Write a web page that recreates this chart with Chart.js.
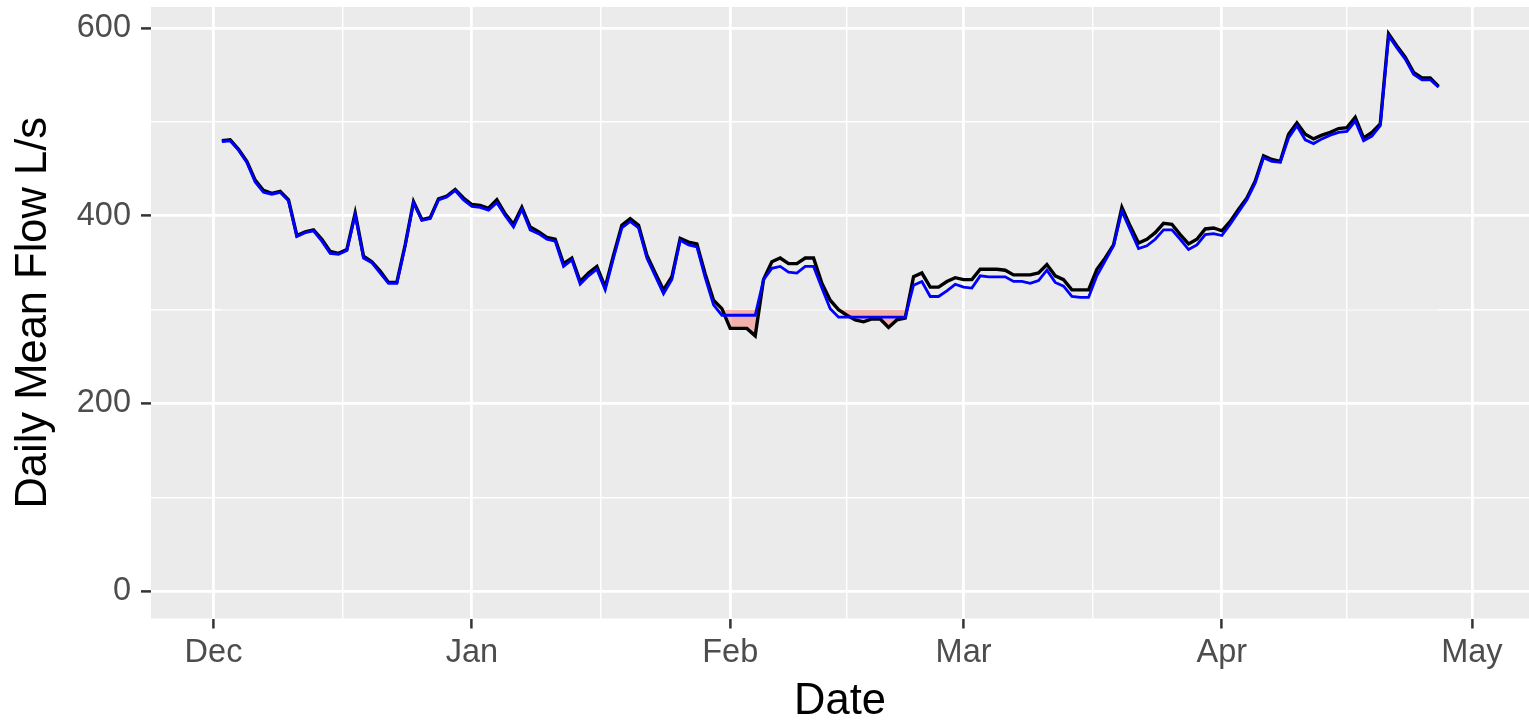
<!DOCTYPE html>
<html>
<head>
<meta charset="utf-8">
<script src="https://cdn.jsdelivr.net/npm/chart.js@4/dist/chart.umd.min.js"></script>
<style>
  html, body { margin: 0; padding: 0; background: #ffffff; }
  #wrap { width: 1529px; height: 724px; }
</style>
</head>
<body>
<div id="wrap"><canvas id="flowChart" width="1529" height="724"></canvas></div>
<script>
// x is counted in days from 1 Dec; first reading is 2 Dec
const firstDay = 1;

// month ticks (days from 1 Dec) and their labels
const monthTicks = [0, 31, 62, 90, 121, 151];
const monthLabels = ['Dec', 'Jan', 'Feb', 'Mar', 'Apr', 'May'];
const monthMinorTicks = [15.5, 46.5, 76, 105.5, 136];

const flowMajorTicks = [0, 200, 400, 600];
const flowMinorTicks = [100, 300, 500];

// threshold below which the observed flow is shaded
const threshold = 300;

// blue line, one value per day from 2 Dec
const blueFlow = [
  479, 480, 470, 457, 436, 425, 423, 425, 416, 378,
  382, 384, 373, 360, 359, 363, 401, 355, 350, 339,
  328, 328, 368, 414, 395, 397, 417, 420, 427, 417,
  410, 409, 406, 414, 400, 388, 407, 385, 381, 375,
  373, 346, 353, 327, 336, 343, 321, 355, 387, 394,
  387, 355, 336, 317, 332, 374, 369, 367, 334, 305,
  294, 294, 294, 294, 294, 332, 344, 346, 340, 339,
  346, 346, 323, 301, 292, 292, 292, 292, 292, 292,
  292, 292, 292, 326, 330, 314, 314, 320, 327, 324,
  323, 336, 335, 335, 335, 330, 330, 328, 331, 342,
  329, 325, 314, 313, 313, 336, 352, 368, 405, 385,
  365, 368, 375, 385, 385, 375, 364, 369, 380, 381,
  379, 391, 404, 417, 435, 462, 458, 457, 483, 496,
  481, 477, 482, 486, 489, 490, 501, 480, 485, 496,
  592, 579, 567, 551, 545, 545, 537
];

// black line, same days
const blackFlow = [
  480, 481, 471, 458, 438, 427, 424, 426, 417, 379,
  383, 385, 375, 362, 360, 364, 403, 357, 351, 341,
  329, 329, 369, 415, 396, 398, 418, 421, 428, 419,
  412, 411, 408, 417, 402, 391, 409, 388, 383, 377,
  375, 349, 355, 330, 339, 346, 324, 358, 390, 397,
  390, 358, 339, 321, 335, 376, 372, 370, 338, 310,
  301, 280, 280, 280, 272, 332, 351, 355, 349, 349,
  355, 355, 328, 310, 300, 294, 289, 287, 290, 290,
  281, 289, 291, 335, 339, 324, 324, 330, 334, 332,
  332, 343, 343, 343, 342, 337, 337, 337, 339, 348,
  336, 332, 321, 321, 321, 343, 355, 369, 409, 389,
  371, 375, 382, 392, 391, 380, 370, 375, 386, 387,
  384, 394, 407, 419, 437, 464, 460, 458, 487, 499,
  487, 482, 486, 489, 493, 494, 505, 483, 489, 498,
  594, 581, 569, 553, 547, 547, 538
];

const toPoints = arr => arr.map((v, i) => ({ x: firstDay + i, y: v }));

const panelBg = {
  id: 'panelBg',
  beforeDraw(chart) {
    const a = chart.chartArea;
    const ctx = chart.ctx;
    ctx.save();
    ctx.fillStyle = '#EBEBEB';
    ctx.fillRect(a.left, a.top, a.right - a.left, a.bottom - a.top);
    ctx.restore();
  }
};

const tickFont = { family: 'Liberation Sans', size: 32.5, lineHeight: 1.2 };
const titleFont = { family: 'Liberation Sans', size: 43.5, lineHeight: 1 };

new Chart(document.getElementById('flowChart'), {
  type: 'line',
  data: {
    datasets: [
      {
        label: 'Adjusted',
        data: toPoints(blueFlow),
        borderColor: '#0000FF',
        borderWidth: 2.8,
        pointRadius: 0,
        tension: 0,
        fill: false
      },
      {
        label: 'Observed',
        data: toPoints(blackFlow),
        borderColor: '#000000',
        borderWidth: 3.4,
        pointRadius: 0,
        tension: 0,
        fill: {
          target: { value: threshold },
          above: 'rgba(0,0,0,0)',
          below: 'rgba(248,118,109,0.5)'
        }
      }
    ]
  },
  options: {
    responsive: false,
    animation: false,
    devicePixelRatio: 1,
    layout: { padding: { top: 7, left: 0, right: 0, bottom: 0 } },
    plugins: {
      legend: { display: false },
      tooltip: { enabled: false }
    },
    scales: {
      x: {
        type: 'linear',
        min: -7.5,
        max: 157.85,
        afterBuildTicks: scale => {
          scale.ticks = monthTicks.concat(monthMinorTicks).map(v => ({ value: v }));
        },
        afterFit: scale => {
          scale.height = 105.5;
          scale.paddingLeft = 0;
          scale.paddingRight = 0;
        },
        border: { display: false },
        grid: {
          color: '#FFFFFF',
          lineWidth: c => monthTicks.includes(c.tick.value) ? 2.8 : 1.4,
          tickColor: c => monthTicks.includes(c.tick.value) ? '#333333' : 'rgba(0,0,0,0)',
          tickWidth: 2.5,
          tickLength: 10
        },
        ticks: {
          autoSkip: false,
          maxRotation: 0,
          padding: 5,
          color: '#4D4D4D',
          font: tickFont,
          callback: v => {
            const i = monthTicks.indexOf(v);
            return i >= 0 ? monthLabels[i] : '';
          }
        },
        title: {
          display: true,
          text: 'Date',
          color: '#000000',
          font: titleFont,
          padding: { top: 0, bottom: 0 }
        }
      },
      y: {
        type: 'linear',
        min: -29.3,
        max: 622.6,
        afterBuildTicks: scale => {
          scale.ticks = flowMajorTicks.concat(flowMinorTicks).sort((a, b) => a - b).map(v => ({ value: v }));
        },
        afterFit: scale => {
          scale.width = 151;
          scale.paddingTop = 0;
          scale.paddingBottom = 0;
        },
        border: { display: false },
        grid: {
          color: '#FFFFFF',
          lineWidth: c => flowMajorTicks.includes(c.tick.value) ? 2.8 : 1.4,
          tickColor: c => flowMajorTicks.includes(c.tick.value) ? '#333333' : 'rgba(0,0,0,0)',
          tickWidth: 2.5,
          tickLength: 10
        },
        ticks: {
          autoSkip: false,
          padding: 10,
          color: '#4D4D4D',
          font: tickFont,
          callback: v => flowMajorTicks.includes(v) ? String(v) : ''
        },
        title: {
          display: true,
          text: 'Daily Mean Flow L/s',
          color: '#000000',
          font: titleFont,
          padding: { top: 12, bottom: 0 }
        }
      }
    }
  },
  plugins: [panelBg]
});
</script>
</body>
</html>
